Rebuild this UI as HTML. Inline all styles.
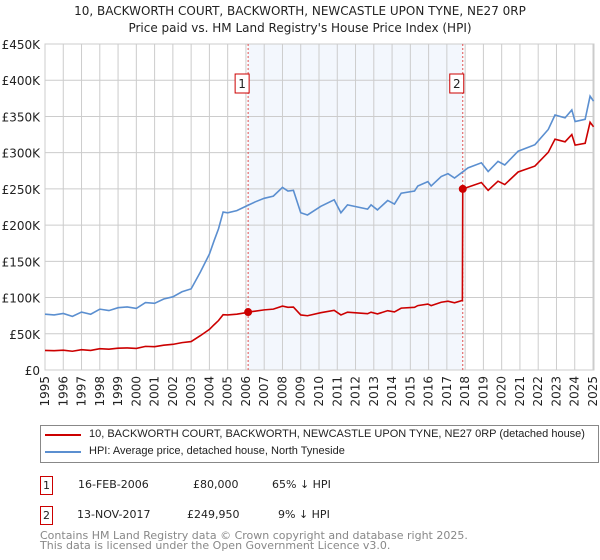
<!DOCTYPE html>
<html><head><meta charset="utf-8"><style>
body{margin:0;width:600px;height:560px;background:#fff;font-family:"DejaVu Sans","Liberation Sans",sans-serif;overflow:hidden;position:relative}
.t{position:absolute;left:0;width:600px;text-align:center;font-size:12px;color:#222}
div{white-space:nowrap}
</style></head><body>
<div class="t" style="top:4px">10, BACKWORTH COURT, BACKWORTH, NEWCASTLE UPON TYNE, NE27 0RP</div>
<div class="t" style="top:21px">Price paid vs. HM Land Registry's House Price Index (HPI)</div>
<svg id="c" width="600" height="560" style="position:absolute;left:0;top:0;font-family:'DejaVu Sans',sans-serif"></svg>
<div style="position:absolute;left:40px;top:425px;width:557px;height:36px;border:1px solid #888;font-size:11px;font-family:'Liberation Sans',sans-serif;color:#222">
 <div style="position:absolute;left:4px;top:8px;width:36px;height:2px;background:#cc0000"></div>
 <div style="position:absolute;left:48px;top:2px">10, BACKWORTH COURT, BACKWORTH, NEWCASTLE UPON TYNE, NE27 0RP (detached house)</div>
 <div style="position:absolute;left:4px;top:25px;width:36px;height:2px;background:#5b8fd0"></div>
 <div style="position:absolute;left:48px;top:19px">HPI: Average price, detached house, North Tyneside</div>
</div>
<div style="position:absolute;left:0;top:0;font-size:11px;color:#222">
 <div style="position:absolute;left:40px;top:476px;width:11px;height:17px;border:1px solid #cc0000;text-align:center;line-height:17px">1</div>
 <div style="position:absolute;left:78px;top:478px">16-FEB-2006</div>
 <div style="position:absolute;left:193px;top:478px">£80,000</div>
 <div style="position:absolute;left:272px;top:478px">65% ↓ HPI</div>
 <div style="position:absolute;left:40px;top:506px;width:11px;height:17px;border:1px solid #cc0000;text-align:center;line-height:17px">2</div>
 <div style="position:absolute;left:77px;top:508px">13-NOV-2017</div>
 <div style="position:absolute;left:187px;top:508px">£249,950</div>
 <div style="position:absolute;left:278px;top:508px">9% ↓ HPI</div>
 <div style="position:absolute;left:40px;top:531px;color:#888;line-height:10px">Contains HM Land Registry data © Crown copyright and database right 2025.<br>This data is licensed under the Open Government Licence v3.0.</div>
</div>
<script>
const hpiYears=[1995,1995.5,1996,1996.5,1997,1997.5,1998,1998.5,1999,1999.5,2000,2000.5,2001,2001.5,2002,2002.5,2003,2003.5,2004,2004.25,2004.5,2004.75,2005,2005.5,2006,2006.5,2007,2007.5,2008,2008.3,2008.6,2009,2009.37,2010.1,2010.83,2011.2,2011.56,2012.66,2012.85,2013.2,2013.76,2014.13,2014.5,2015.23,2015.41,2015.96,2016.14,2016.69,2017.06,2017.42,2018.16,2018.89,2019.26,2019.8,2020.17,2020.9,2021.82,2022.55,2022.92,2023.47,2023.84,2024.02,2024.57,2024.84,2025.03];
const hpiValues=[77,76,78,74,80,77,84,82,86,87,85,93,92,98,101,108,112,135,160,178,195,218,217,220,226,232,237,240,252,247,248,217,214,226,235,217,228,222,228,221,234,229,244,247,254,260,254,267,271,265,279,286,274,288,283,302,311,332,352,348,359,343,346,378,371];
const priceYears=[1995,1995.5,1996,1996.5,1997,1997.5,1998,1998.5,1999,1999.5,2000,2000.5,2001,2001.5,2002,2002.5,2003,2003.5,2004,2004.25,2004.5,2004.75,2005,2005.5,2006,2006.12,2006.5,2007,2007.5,2008,2008.3,2008.6,2009,2009.37,2010.1,2010.83,2011.2,2011.56,2012.66,2012.85,2013.2,2013.76,2014.13,2014.5,2015.23,2015.41,2015.96,2016.14,2016.69,2017.06,2017.42,2017.85,2017.87,2018.16,2018.89,2019.26,2019.8,2020.17,2020.9,2021.82,2022.55,2022.92,2023.47,2023.84,2024.02,2024.57,2024.84,2025.03];
const priceValues=[27,26.6,27.3,25.9,28,27,29.4,28.7,30.1,30.5,29.8,32.6,32.2,34.3,35.4,37.8,39.2,47.3,56,62.3,68.3,76.3,76,77,79.1,80,81.2,83,84,88.2,86.5,86.8,76,74.9,79.1,82.3,76,79.8,77.7,79.8,77.4,81.9,80.2,85.4,86.5,88.9,91,88.9,93.5,94.9,92.8,96,249.95,252.5,258.8,248,260.6,256,273.3,281.5,300.5,318.6,315,325,310.4,313,342,335.7];
const saleYears=[2006.12,2017.87];
const saleValues=[80,249.95];
const saleLabels=["1","2"];
const yTicks=[0,50,100,150,200,250,300,350,400,450];
const yTickLabels=["£0","£50K","£100K","£150K","£200K","£250K","£300K","£350K","£400K","£450K"];
const xTicks=[1995,1996,1997,1998,1999,2000,2001,2002,2003,2004,2005,2006,2007,2008,2009,2010,2011,2012,2013,2014,2015,2016,2017,2018,2019,2020,2021,2022,2023,2024,2025];

const L=45,R=594,T=44,B=370;
const x=y=>L+(y-1995)*(593-L)/30;
const yS=v=>B-v*(B-T)/450;
const svg=document.getElementById('c');
const NS='http://www.w3.org/2000/svg';
function mk(tag,attrs,parent){const e=document.createElementNS(NS,tag);for(const k in attrs)e.setAttribute(k,attrs[k]);(parent||svg).appendChild(e);return e;}

const shade=mk('rect',{x:x(saleYears[0]),y:T,width:x(saleYears[1])-x(saleYears[0]),height:B-T,fill:'#eef3fc',opacity:0.7});



xTicks.forEach(t=>{
 const g=mk('line',{x1:x(t),x2:x(t),y1:T,y2:B,stroke:'#ccc','stroke-width':1});
 
 
 const tx=mk('text',{x:0,y:0,'text-anchor':'end','font-size':12,fill:'#222',transform:'translate('+(x(t)+4)+',376) rotate(-90)'});
 tx.textContent=t;
 
 
});
yTicks.forEach((t,i)=>{
 const g=mk('line',{x1:L,x2:R,y1:yS(t),y2:yS(t),stroke:'#ccc','stroke-width':1});
 
 
 const tx=mk('text',{x:40,y:yS(t)+5,'text-anchor':'end','font-size':12,fill:'#222'});
 tx.textContent=yTickLabels[i];
 
 
});
const frame=mk('rect',{x:L,y:T,width:R-L,height:B-T,fill:'none',stroke:'#ccc'});



saleYears.forEach((s,i)=>{
 const v=mk('line',{x1:x(s),x2:x(s),y1:T,y2:B,stroke:'#e05050','stroke-width':1,'stroke-dasharray':'2,2'});
 
 
 const b=mk('rect',{x:x(s)-13,y:74,width:14,height:19,fill:'#fff',stroke:'#cc0000'});
 
 
 const t=mk('text',{x:x(s)-6,y:88,'text-anchor':'middle','font-size':12,fill:'#222'});
 t.textContent=saleLabels[i];
 
 
});

const hp=mk('polyline',{points:hpiYears.map((y,i)=>x(y)+','+yS(hpiValues[i])).join(' '),fill:'none',stroke:'#5b8fd0','stroke-width':1.6});


const pp=mk('polyline',{points:priceYears.map((y,i)=>x(y)+','+yS(priceValues[i])).join(' '),fill:'none',stroke:'#cc0000','stroke-width':1.6});


saleYears.forEach((s,i)=>{
 const c=mk('circle',{cx:x(s),cy:yS(saleValues[i]),r:4,fill:'#cc0000'});
 
 
});
</script>
</body></html>
